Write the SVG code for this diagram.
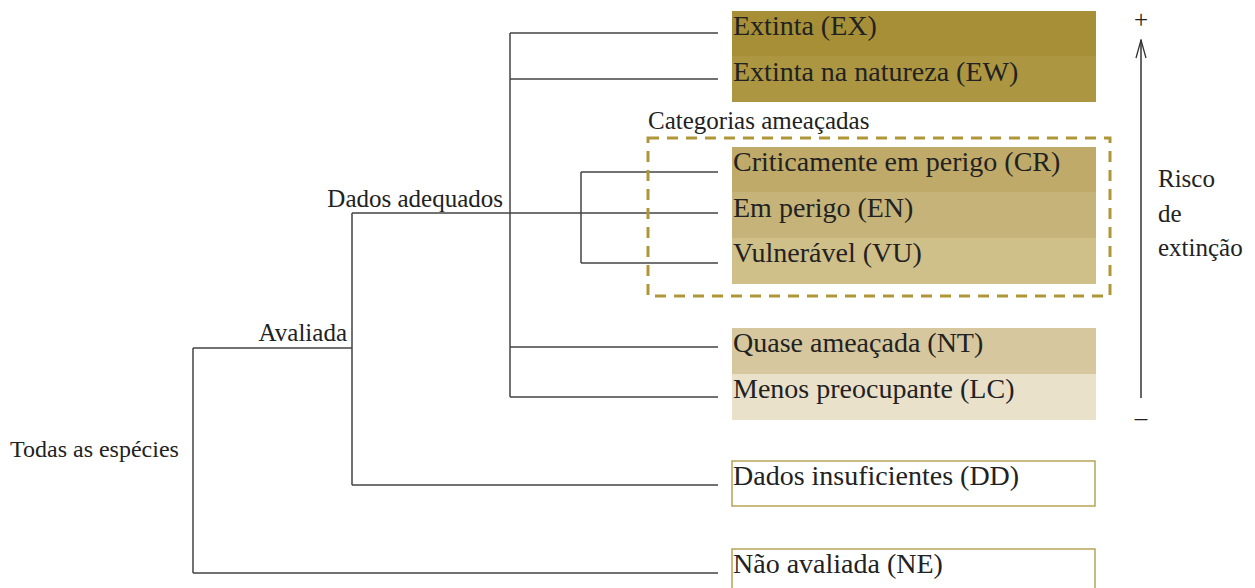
<svg xmlns="http://www.w3.org/2000/svg" width="1255" height="588" viewBox="0 0 1255 588">
<style>
  .lbl { font-family: "Liberation Serif", "DejaVu Serif", serif; font-size: 25px; fill: #222; }
  .box { font-family: "Liberation Serif", "DejaVu Serif", serif; font-size: 28px; fill: #222; }
  .ln { stroke: #444; stroke-width: 1.5; fill: none; }
  .ol { fill: #fff; stroke: #B8A456; stroke-width: 1.5; }
</style>
<defs>
  <marker id="open" viewBox="0 0 20 12" refX="19" refY="6" markerWidth="20" markerHeight="12" markerUnits="userSpaceOnUse" orient="auto">
    <path d="M1,1 L19,6 L1,11" fill="none" stroke="#333" stroke-width="1.3"/>
  </marker>
</defs>
<rect width="1255" height="588" fill="#fff"/>

<g id="connectors">
  <path class="ln" d="M193,348 V573 M193,348 H352 M193,573 H718"/>
  <path class="ln" d="M352,213 V485 M352,485 H718 M352,213 H718"/>
  <path class="ln" d="M510,33 V397 M510,33 H718 M510,79 H718 M510,347 H718 M510,397 H718"/>
  <path class="ln" d="M581,172 V263 M581,172 H718 M581,263 H718"/>
</g>

<g id="label-todas"><text class="lbl" x="10" y="457" style="font-size:24px">Todas as espécies</text></g>
<g id="label-avaliada"><text class="lbl" x="347" y="341" text-anchor="end">Avaliada</text></g>
<g id="label-dados"><text class="lbl" x="503" y="207" text-anchor="end">Dados adequados</text></g>

<g id="threatened-group">
  <rect x="648" y="138" width="462" height="158" fill="none" stroke="#AF9739" stroke-width="3" stroke-dasharray="11,8"/>
  <text class="lbl" x="648" y="129">Categorias ameaçadas</text>
</g>

<g id="EX"><rect x="732" y="11" width="364" height="46" fill="#A68F37"/><text class="box" x="733" y="35">Extinta (EX)</text></g>
<g id="EW"><rect x="732" y="56" width="364" height="46" fill="#AC9641"/><text class="box" x="733" y="81">Extinta na natureza (EW)</text></g>
<g id="CR"><rect x="732" y="147" width="364" height="46" fill="#BFAA69"/><text class="box" x="733" y="171">Criticamente em perigo (CR)</text></g>
<g id="EN"><rect x="732" y="192" width="364" height="47" fill="#C6B37A"/><text class="box" x="733" y="217">Em perigo (EN)</text></g>
<g id="VU"><rect x="732" y="238" width="364" height="46" fill="#CFBF88"/><text class="box" x="733" y="262">Vulnerável (VU)</text></g>
<g id="NT"><rect x="732" y="328" width="364" height="47" fill="#D6C79E"/><text class="box" x="733" y="352">Quase ameaçada (NT)</text></g>
<g id="LC"><rect x="732" y="374" width="364" height="46" fill="#EAE1CB"/><text class="box" x="733" y="398">Menos preocupante (LC)</text></g>
<g id="DD"><rect class="ol" x="732" y="461" width="363" height="45"/><text class="box" x="733" y="485">Dados insuficientes (DD)</text></g>
<g id="NE"><rect class="ol" x="732" y="549" width="363" height="45"/><text class="box" x="733" y="573">Não avaliada (NE)</text></g>

<g id="risk-axis">
  <line x1="1141" y1="398" x2="1141" y2="40" stroke="#333" stroke-width="1.5" marker-end="url(#open)"/>
  <text class="lbl" x="1141" y="28" text-anchor="middle">+</text>
  <text class="lbl" x="1141" y="426" text-anchor="middle">–</text>
  <text class="lbl" x="1158" y="187">Risco</text>
  <text class="lbl" x="1158" y="222">de</text>
  <text class="lbl" x="1158" y="256">extinção</text>
</g>
</svg>
